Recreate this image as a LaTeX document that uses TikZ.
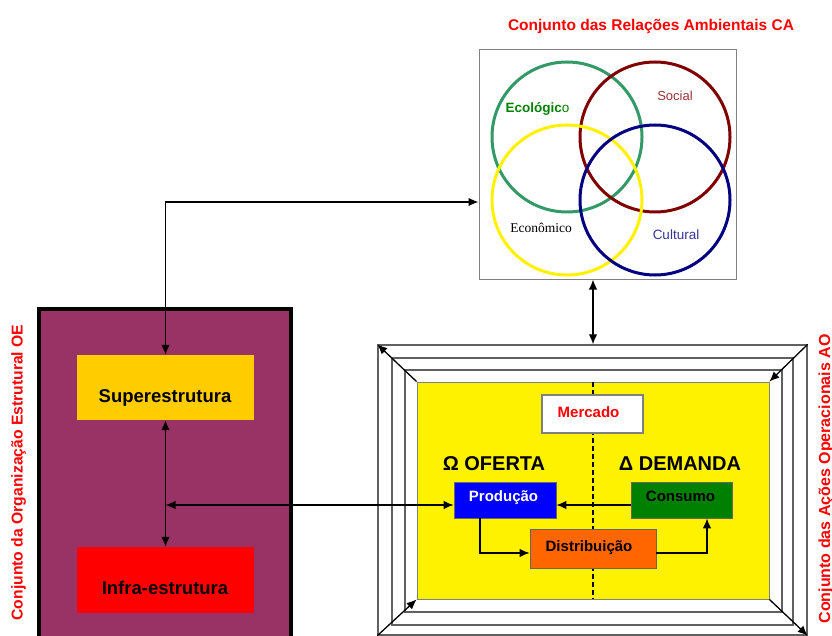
\documentclass[tikz,border=0pt]{standalone}
\usepackage{fontspec}
\setmainfont{Liberation Sans}
\newfontfamily\timesf{Liberation Serif}
\usetikzlibrary{arrows.meta,calc}
\definecolor{oepurple}{HTML}{993366}
\definecolor{supyel}{HTML}{FFCC00}
\definecolor{cgreen}{HTML}{339966}
\definecolor{cred}{HTML}{800000}
\definecolor{cblue}{HTML}{000080}
\definecolor{lgreen}{HTML}{008000}
\definecolor{lsocial}{HTML}{993333}
\definecolor{lcult}{HTML}{333399}
\definecolor{orng}{HTML}{FF6600}
\definecolor{framegray}{HTML}{606060}
\begin{document}
\begin{tikzpicture}[x=1pt,y=-1pt,
  conn/.style={line width=1.3pt,draw=black},
  tipr/.style={-{Latex[length=10pt,width=8.5pt]}},
  tipb/.style={{Latex[length=10pt,width=8.5pt]}-{Latex[length=10pt,width=8.5pt]}},
  rbox/.style={rectangle,inner sep=0pt},
  lab/.style={anchor=base,inner sep=0pt,font=\fontsize{15}{18}\selectfont\bfseries},
  redlab/.style={lab,text=red},
  frm/.style={rbox,draw=framegray,line width=1.4pt,fill=white},
  circ/.style={circle,minimum size=150pt,line width=3pt,inner sep=0pt}
]
\useasboundingbox (0,0) rectangle (832,636);

% ---------- CA ----------
\node[redlab,font=\fontsize{15.5}{18}\selectfont\bfseries] (tca) at (651,31) {Conjunto das Relações Ambientais CA};
\node[rbox,draw=gray,line width=1pt,fill=white,minimum width=257pt,minimum height=229pt] (ca) at (607.5,164.5) {};
\node[circ,draw=cgreen] (ceco) at (567,137) {};
\node[circ,draw=cred] (csoc) at (655,137) {};
\node[circ,draw=yellow] (cecon) at (567,200) {};
\node[circ,draw=cblue] (ccul) at (655,200) {};
\node[lab,text=lgreen,font=\fontsize{13.5}{16}\selectfont] (leco) at (537.5,112.5) {\textbf{Ecológic}o};
\node[lab,text=lsocial,font=\fontsize{13}{16}\selectfont] (lsoc) at (675,100.7) {Social};
\node[lab,font=\timesf\fontsize{13.5}{16}\selectfont] (lecon) at (541,232.7) {Econômico};
\node[lab,text=lcult,font=\fontsize{13.5}{16}\selectfont] (lcul) at (676,239.3) {Cultural};

% ---------- OE ----------
\node[rbox,fill=oepurple,draw=black,line width=4pt,minimum width=252pt,minimum height=345pt] (oe) at (165,481.5) {};
\node[rbox,fill=supyel,minimum width=177pt,minimum height=65pt] (sup) at (165.5,387.5) {};
\node[rbox,fill=red,minimum width=177pt,minimum height=66pt] (infra) at (165.5,580) {};
\node[lab,font=\fontsize{18.5}{22}\selectfont\bfseries] (tsup) at (165,402) {Superestrutura};
\node[lab,font=\fontsize{18.5}{22}\selectfont\bfseries] (tinf) at (165,594) {Infra-estrutura};
\node[redlab,rotate=90,font=\fontsize{15.7}{18}\selectfont\bfseries] (toe) at (22.5,472.5) {Conjunto da Organização Estrutural OE};

% ---------- AO ----------
\node[frm,minimum width=429pt,minimum height=290pt] (outer) at (592.5,490) {};
\node[frm,minimum width=401pt,minimum height=267pt] (fr2) at (592.5,491.5) {};
\node[frm,minimum width=377pt,minimum height=242pt] (fr3) at (593.5,491) {};
\node[rbox,fill=yellow,draw=gray,line width=0.8pt,minimum width=352pt,minimum height=217pt] (yel) at (593,490.5) {};
\node[redlab,rotate=90,font=\fontsize{16}{18}\selectfont\bfseries] (tao) at (830,479) {Conjunto das Ações Operacionais AO};

\draw[line width=1.3pt,dash pattern=on 5pt off 3pt] (yel.north) -- (yel.south);

\draw[conn,tipr] (yel.north west) -- (outer.north west);
\draw[conn,tipr] (outer.north east) -- (yel.north east);
\draw[conn,tipr] (outer.south west) -- (yel.south west);
\draw[conn,tipr] (yel.south east) -- (outer.south east);

\node[rbox,fill=white,draw=gray,line width=1.3pt,minimum width=101pt,minimum height=38pt] (merc) at (592.5,414) {};
\node[redlab] (tmerc) at (588.5,417.3) {Mercado};
\node[lab,font=\fontsize{20}{24}\selectfont\bfseries] (tof) at (494,470) {Ω OFERTA};
\node[lab,font=\fontsize{20}{24}\selectfont\bfseries] (tdem) at (680,470) {Δ DEMANDA};

\node[rbox,fill=blue,draw=black!60,line width=0.8pt,minimum width=102pt,minimum height=36pt] (prod) at (505,500) {};
\node[rbox,fill=lgreen,draw=black!60,line width=0.8pt,minimum width=101pt,minimum height=36pt] (cons) at (681.5,500) {};
\node[rbox,fill=orng,draw=black!60,line width=0.8pt,minimum width=126pt,minimum height=39pt] (dist) at (593,548.5) {};
\node[lab,text=white] (tprod) at (503.5,501.7) {Produção};
\node[lab] (tcons) at (680.5,501.7) {Consumo};
\node[lab] (tdist) at (589,551.7) {Distribuição};

% ---------- connectors ----------
\coordinate (jn) at (165.5,505);
\draw[conn,tipb] (sup.north) |- ($(ca.west)+(0,37.5)$);
\draw[conn,tipb] (sup.south) -- (infra.north);
\draw[conn,tipb] (ca.south -| yel.north) -- (outer.north -| yel.north);
\draw[conn,tipb] (jn) -- (jn -| prod.west);
\draw[conn,tipr] (cons.west |- jn) -- (prod.east |- jn);
\draw[conn,tipr] ([xshift=-25pt]prod.south) |- ($(dist.west)+(0,4.5)$);
\draw[conn,tipr] ($(dist.east)+(0,4.5)$) -| ([xshift=25.5pt]cons.south);
\end{tikzpicture}
\end{document}
